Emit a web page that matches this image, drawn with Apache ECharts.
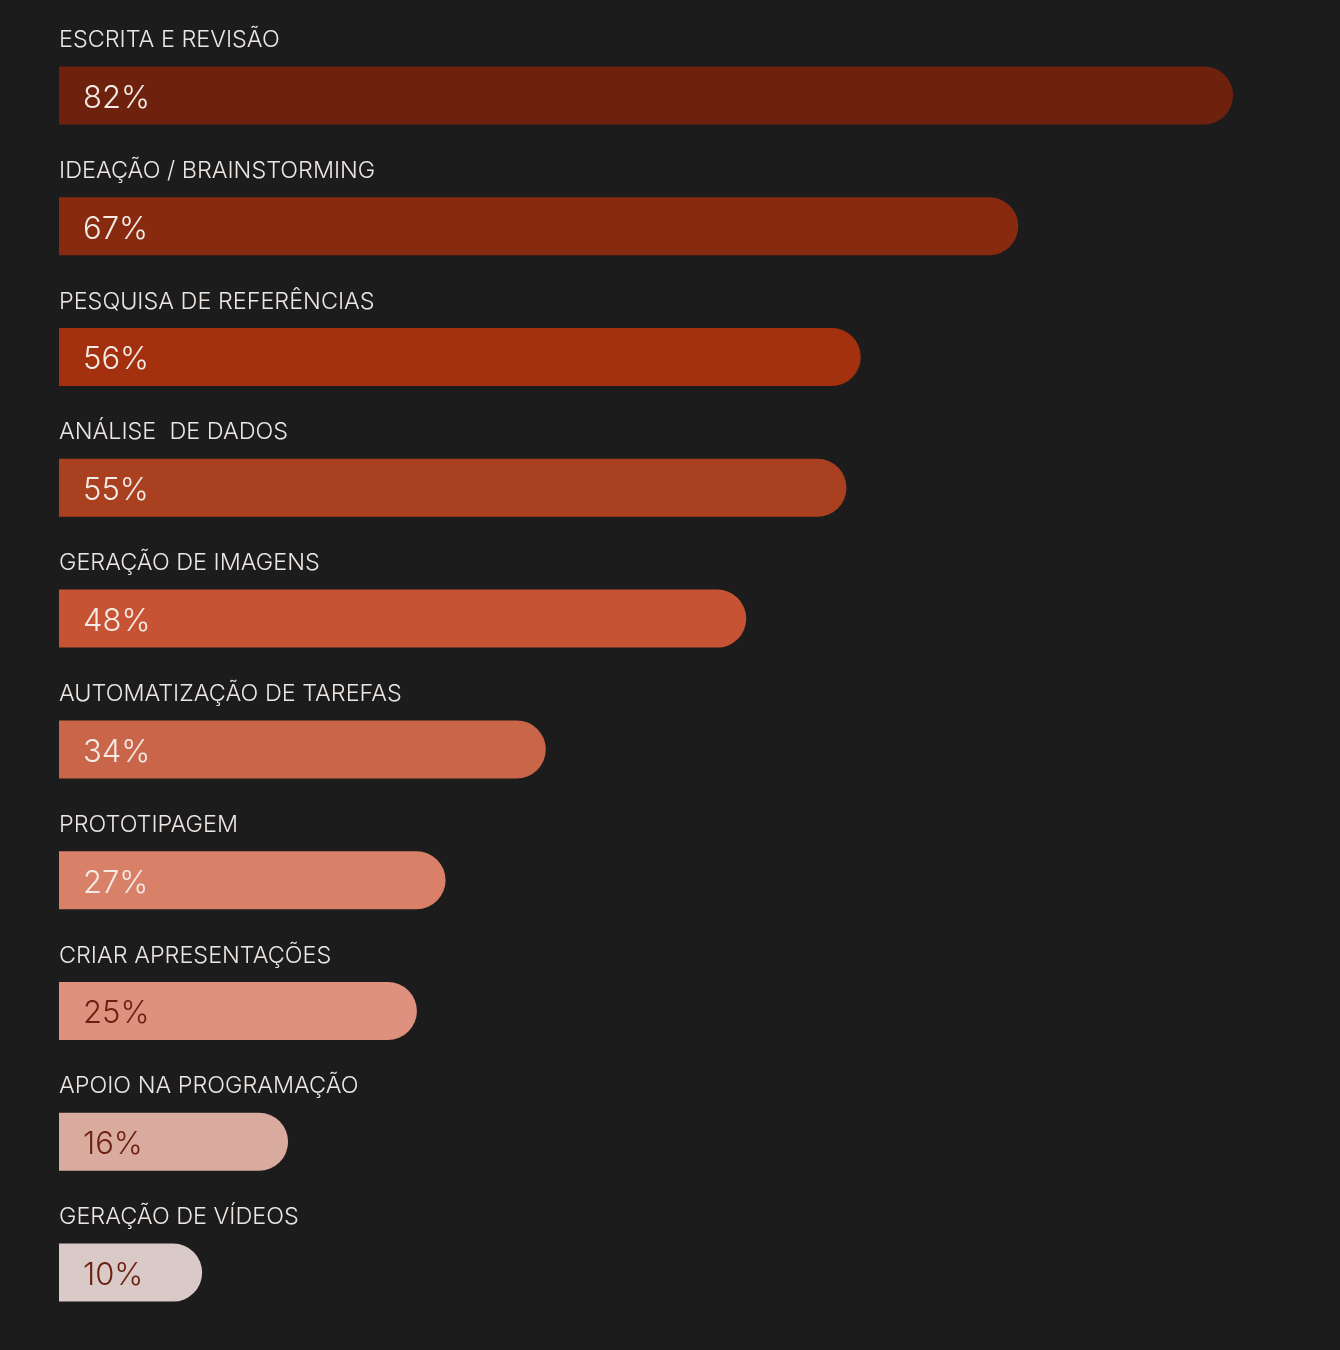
<!DOCTYPE html>
<html>
<head>
<meta charset="utf-8">
<script src="https://cdn.jsdelivr.net/npm/echarts@6/dist/echarts.min.js"></script>
<style>
html,body{margin:0;padding:0;background:#1c1c1d;}
#chart{width:1340px;height:1350px;}
</style>
</head>
<body>
<div id="chart"></div>
<script>
const categories = [
  'ESCRITA E REVISÃO',
  'IDEAÇÃO / BRAINSTORMING',
  'PESQUISA DE REFERÊNCIAS',
  'ANÁLISE  DE DADOS',
  'GERAÇÃO DE IMAGENS',
  'AUTOMATIZAÇÃO DE TAREFAS',
  'PROTOTIPAGEM',
  'CRIAR APRESENTAÇÕES',
  'APOIO NA PROGRAMAÇÃO',
  'GERAÇÃO DE VÍDEOS'
];
const values = [82, 67, 56, 55, 48, 34, 27, 25, 16, 10];
const barColors = ['#6e220e','#872a10','#a3300e','#a94020','#c65434','#c9664a','#d98068','#dd917e','#d9aa9e','#dacac7'];
const labelColors = ['#f3ebe6','#f3ebe6','#f3ebe6','#f3ebe6','#f3ebe6','#f3ebe6','#f3ebe6','#6a1f0f','#6a1f0f','#6a1f0f'];

const chart = echarts.init(document.getElementById('chart'), null, {renderer:'canvas'});
const FONT = 'Inter';
chart.setOption({
  backgroundColor: '#1c1c1d',
  animation: false,
  grid: {left: 59, right: 64, top: 30, bottom: 12, containLabel: false},
  xAxis: {type: 'value', min: 0, max: 85, show: false},
  yAxis: {type: 'category', data: categories, inverse: true, show: false},
  series: [
    {
      type: 'bar',
      barWidth: 58,
      data: values.map((v, i) => ({
        value: v,
        itemStyle: {color: barColors[i], borderRadius: [0, 29, 29, 0]},
        label: {color: labelColors[i]}
      })),
      label: {
        show: true,
        position: 'insideLeft',
        distance: 24,
        offset: [0, 3],
        formatter: p => p.value + '%',
        fontFamily: FONT,
        fontSize: 31,
        fontWeight: 300
      },
      z: 2
    },
    {
      type: 'bar',
      barWidth: 58,
      barGap: '-100%',
      silent: true,
      data: values.map((v, i) => ({value: v, itemStyle: {color: 'rgba(0,0,0,0)'}})),
      label: {
        show: true,
        position: [0, -15],
        align: 'left',
        verticalAlign: 'bottom',
        formatter: p => categories[p.dataIndex],
        color: '#ece6e3',
        fontFamily: FONT,
        fontSize: 23.4,
        fontWeight: 300
      },
      z: 3
    }
  ]
});
</script>
</body>
</html>
